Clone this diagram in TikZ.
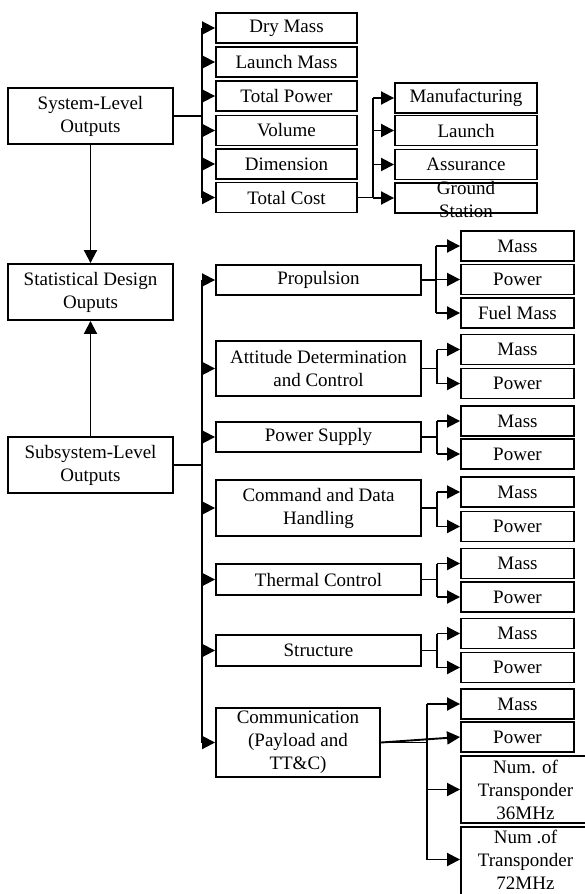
\documentclass[tikz,border=0pt]{standalone}
\usepackage{fontspec}
\setmainfont{Liberation Serif}
\usetikzlibrary{arrows.meta,calc}
\begin{document}
\begin{tikzpicture}[x=1pt,y=-1pt,
  box/.style={draw,line width=1.9pt,inner sep=0pt,align=center,font=\fontsize{19}{23}\selectfont},
  txt/.style={inner sep=0pt,align=center,font=\fontsize{19}{23}\selectfont},
  big/.style={box,minimum width=165pt,minimum height=56pt},
  top/.style={box,minimum width=141pt,minimum height=30pt},
  cc/.style={box,minimum width=142pt,minimum height=30pt},
  ss/.style={box,minimum width=205pt},
  leaf/.style={box,minimum width=113pt,minimum height=30pt},
  wide/.style={box,minimum width=129pt},
  arr/.style={-{Triangle[length=13pt,width=13pt]},line width=1.9pt},
  ln/.style={line width=1.9pt}
]
\useasboundingbox (0,0) rectangle (585,894);
\clip (0,0) rectangle (585,894);
\fill[white] (0,0) rectangle (585,894);
% left column
\node[big] (sys) at (90.5,116) {System-Level\\Outputs};
\node[big] (stat) at (90.5,292) {Statistical Design\\Ouputs};
\node[big] (sub) at (90.5,465) {Subsystem-Level\\Outputs};
% system outputs
\node[top] (dry) at (286.5,28) {Dry Mass};
\node[top] (lmass) at (286.5,62) {Launch Mass};
\node[top] (tpow) at (286.5,96) {Total Power};
\node[top] (vol) at (286.5,130.5) {Volume};
\node[top] (dim) at (286.5,164) {Dimension};
\node[top] (cost) at (286.5,197.5) {Total Cost};
% cost children
\node[cc] (manuf) at (466,98) {Manufacturing};
\node[cc] (lch) at (466,130.5) {Launch};
\node[cc] (assur) at (466,164.5) {Assurance};
\node[cc] (ground) at (466,198) {};
\node[txt] (groundt) at (466,199) {Ground\\Station};
% subsystems
\node[ss,minimum height=30pt] (prop) at (318.5,280) {Propulsion};
\node[ss,minimum height=55pt] (adc) at (318.5,368.5) {Attitude Determination\\and Control};
\node[ss,minimum height=30pt] (psup) at (318.5,437) {Power Supply};
\node[ss,minimum height=56pt] (cdh) at (318.5,508) {Command and Data\\Handling};
\node[ss,minimum height=31pt] (therm) at (318.5,579.5) {Thermal Control};
\node[ss,minimum height=31pt] (struc) at (318.5,650.5) {Structure};
\node[box,minimum width=164pt,minimum height=69pt] (comm) at (298,742.5) {Communication\\(Payload and\\TT\&C)};
% leaves
\node[leaf] (pm) at (517.5,246) {Mass};
\node[leaf] (pp) at (517.5,279.5) {Power};
\node[leaf] (pf) at (517.5,313) {Fuel Mass};
\node[leaf] (am) at (517.5,349.5) {Mass};
\node[leaf] (ap) at (517.5,383.5) {Power};
\node[leaf] (sm) at (517.5,421) {Mass};
\node[leaf] (sp) at (517.5,454) {Power};
\node[leaf] (cm) at (517.5,492) {Mass};
\node[leaf] (cp) at (517.5,526.5) {Power};
\node[leaf] (tm) at (517.5,563.5) {Mass};
\node[leaf] (tp) at (517.5,597) {Power};
\node[leaf] (rm) at (517.5,633.5) {Mass};
\node[leaf] (rp) at (517.5,667.5) {Power};
\node[leaf] (km) at (517.5,704) {Mass};
\node[leaf] (kp) at (517.5,737) {Power};
\node[wide,minimum height=67pt] (n36) at (525.5,789.5) {Num. of\\Transponder\\36MHz};
\node[wide,minimum height=72pt] (n72) at (525.5,863) {};
\node[txt] (n72t) at (525.5,859.5) {Num .of\\Transponder\\72MHz};
% buses
\coordinate (sb) at (202,0);
\coordinate (cb) at (373,0);
\coordinate (mb) at (202,0);
\coordinate (pb) at (436,0);
\coordinate (qb) at (437,0);
\coordinate (kb) at (427,0);
% system bus
\draw[ln] (sys.east) -- (sb |- sys.east);
\draw[ln] (sb |- dry.west) -- (sb |- cost.west);
\foreach \n in {dry,lmass,tpow,vol,dim,cost} \draw[arr] (sb |- \n.west) -- (\n.west);
% cost bus
\draw[ln] (cost.east) -- (cb |- cost.east);
\draw[ln] (cb |- manuf.west) -- (cb |- ground.west);
\foreach \n in {manuf,lch,assur,ground} \draw[arr] (cb |- \n.west) -- (\n.west);
% vertical arrows
\draw[arr] (sys.south) -- (stat.north);
\draw[arr] (sub.north) -- (stat.south);
% subsystem bus
\draw[ln,line width=2.8pt] (sub.east) -- (mb |- sub.east);
\draw[ln] (mb |- prop.west) -- (mb |- comm.west);
\foreach \n in {prop,adc,psup,cdh,therm,struc,comm} \draw[arr] (mb |- \n.west) -- (\n.west);
% propulsion
\draw[ln] (prop.east) -- (pb |- prop.east);
\draw[ln] (pb |- pm.west) -- (pb |- pf.west);
\foreach \n in {pm,pp,pf} \draw[arr] (pb |- \n.west) -- (\n.west);
% two-leaf groups
\foreach \p/\a/\b in {adc/am/ap,psup/sm/sp,cdh/cm/cp,therm/tm/tp,struc/rm/rp}{
  \draw[ln] (\p.east) -- (qb |- \p.east);
  \draw[ln] (qb |- \a.west) -- (qb |- \b.west);
  \draw[arr] (qb |- \a.west) -- (\a.west);
  \draw[arr] (qb |- \b.west) -- (\b.west);
}
% communication
\draw[ln] (comm.east) -- (kb |- comm.east);
\draw[ln] (kb |- km.west) -- (kb |- n72t.west);
\foreach \n in {km,n36} \draw[arr] (kb |- \n.west) -- (\n.west);
\draw[arr] (kb |- n72t.west) -- (n72.west |- n72t.west);
\draw[arr] (comm.east) -- (kp.west);
\end{tikzpicture}
\end{document}
